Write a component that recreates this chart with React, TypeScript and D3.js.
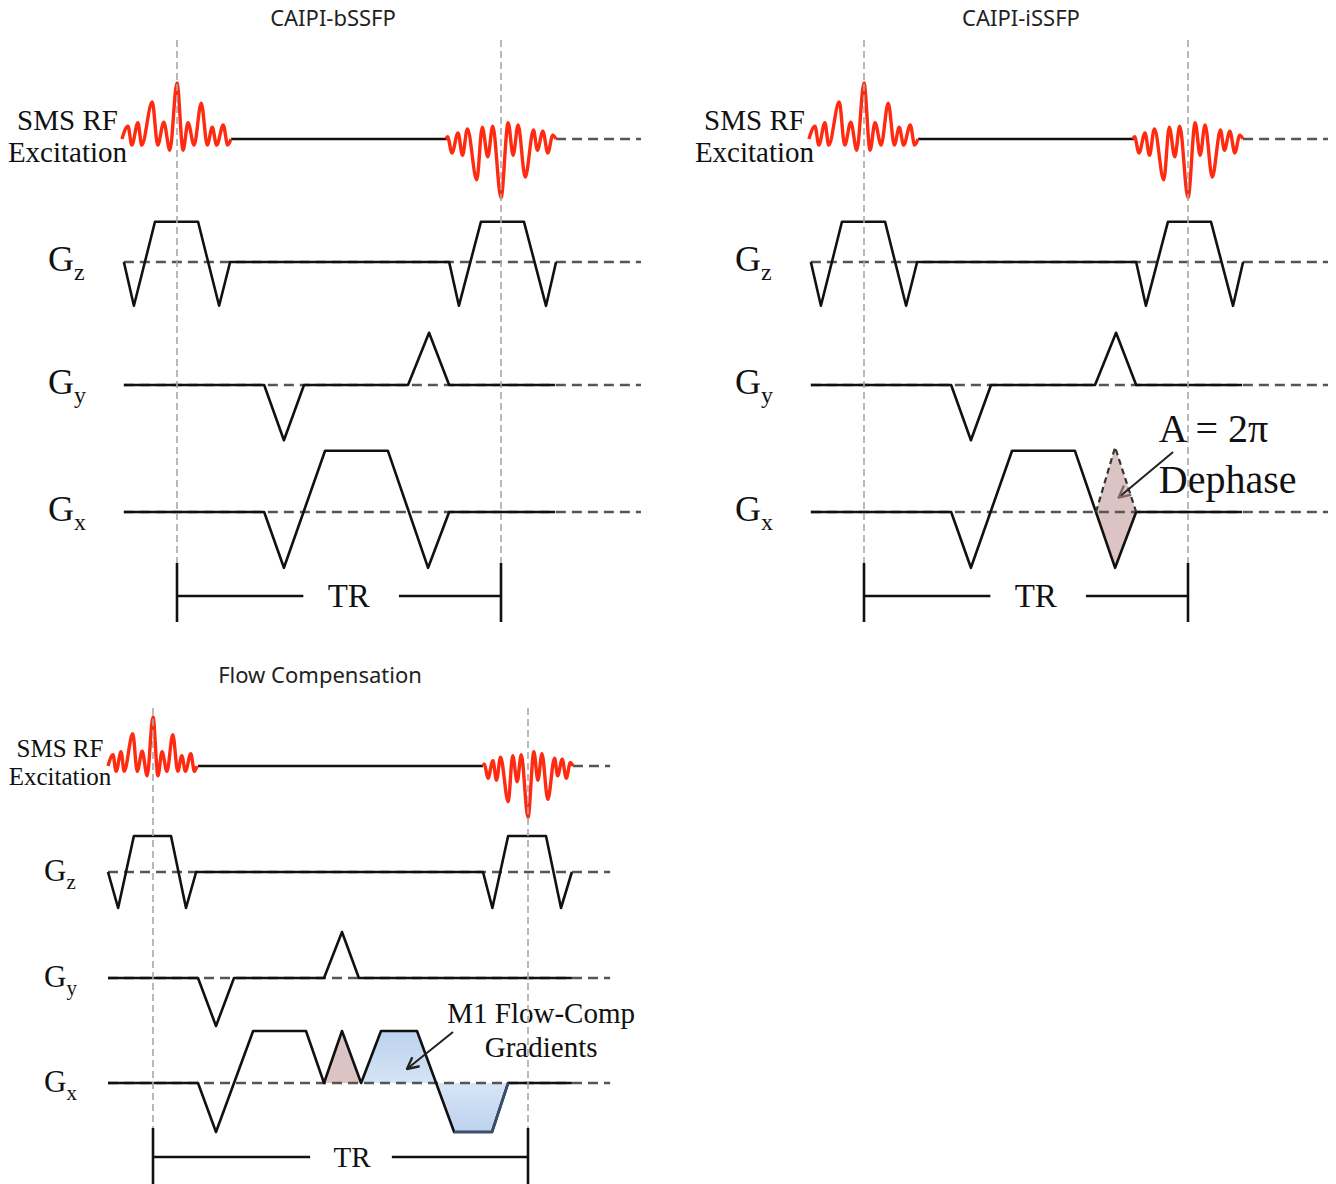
import React from 'react';
import * as d3 from 'd3';

type Pt = [number, number];

const panelTitles = ['CAIPI-bSSFP', 'CAIPI-iSSFP', 'Flow Compensation'];
const axisNames = ['z', 'y', 'x'];
const rfLabel = ['SMS RF', 'Excitation'];

// SMS RF pulses: [time / half-width, amplitude / main lobe]
const rfPulseA: Pt[] = [
  [-1, 0], [-0.89, 0.23], [-0.82, -0.11], [-0.71, 0.29], [-0.64, -0.11], [-0.45, 0.66],
  [-0.35, -0.11], [-0.24, 0.3], [-0.13, -0.2], [0, 1], [0.11, -0.2], [0.2, 0.29],
  [0.31, -0.11], [0.44, 0.64], [0.55, -0.11], [0.64, 0.21], [0.72, -0.11], [0.84, 0.25],
  [0.92, -0.11], [0.98, 0],
];
const rfPulseB: Pt[] = [
  [-1, 0], [-0.97, 0.04], [-0.89, -0.25], [-0.78, 0.11], [-0.7, -0.29], [-0.61, 0.18],
  [-0.44, -0.73], [-0.34, 0.21], [-0.24, -0.32], [-0.15, 0.23], [0, -1.05], [0.13, 0.29],
  [0.22, -0.29], [0.31, 0.25], [0.44, -0.68], [0.59, 0.16], [0.66, -0.2], [0.76, 0.14],
  [0.85, -0.25], [0.94, 0.07], [1, 0],
];

// bSSFP / iSSFP gradients: [time in % of TR, amplitude]
const gzSSFP: Pt[] = [
  [-16.4, 0], [-13.3, -0.73], [-6.8, 0.67], [6.5, 0.67], [13, -0.73], [16.4, 0],
  [84, 0], [87, -0.73], [93.8, 0.67], [107.1, 0.67], [113.9, -0.73], [117, 0],
];
const gySSFP: Pt[] = [
  [-16.4, 0], [26.9, 0], [33, -0.92], [39.2, 0], [71.3, 0], [77.8, 0.87], [84, 0], [116.7, 0],
];
const gxSSFP: Pt[] = [
  [-16.4, 0], [26.9, 0], [33, -0.93], [45.7, 1.02], [65.1, 1.02], [77.5, -0.93], [84, 0], [116.7, 0],
];
// iSSFP extra dephasing lobe (A = 2π)
const gxDephase: Pt[] = [[71.6, 0], [77.5, 1.08], [84, 0]];
const gxDephaseFill: Pt[] = [[71.6, 0], [77.5, 1.08], [84, 0], [77.5, -0.93]];

// flow compensated sequence
const gzFlow: Pt[] = [
  [-12, 0], [-9.3, -0.72], [-5.1, 0.72], [4.8, 0.72], [8.8, -0.72], [11.5, 0],
  [88, 0], [90.5, -0.72], [94.7, 0.72], [104.8, 0.72], [108.8, -0.72], [111.7, 0],
];
const gyFlow: Pt[] = [
  [-12, 0], [12, 0], [16.8, -0.96], [21.6, 0], [45.6, 0], [50.4, 0.92], [54.9, 0], [111.7, 0],
];
const gxFlow: Pt[] = [
  [-12, 0], [12, 0], [16.8, -0.98], [26.7, 1.04], [40.8, 1.04], [45.6, 0], [50.4, 1.04],
  [55.5, 0], [60.8, 1.04], [70.4, 1.04], [80.3, -0.98], [90.4, -0.98], [94.7, 0], [111.7, 0],
];
const flowPinkLobe: Pt[] = [[45.6, 0], [50.4, 1.04], [55.5, 0]];
const flowCompPos: Pt[] = [[55.5, 0], [60.8, 1.04], [70.4, 1.04], [75.5, 0]];
const flowCompNeg: Pt[] = [[75.5, 0], [80.3, -0.98], [90.4, -0.98], [94.7, 0]];

const serif = "'Liberation Serif', 'Times New Roman', serif";
const sans = "'Noto Sans', 'Open Sans', sans-serif";
const dashCol = '#555';

const layoutA = {
  xr: [177, 501], rows: [139, 262, 385, 512], gradPx: 60, rfPx: 56, half: 17,
  tStart: -16.4, tEnd: 143.2, rfGap: [16.7, 83.3], vTop: 40, vBottom: 563,
  trY: 596, trBottom: 622, trGap: [39, 68.5], trText: 53, trFont: 33,
  titleX: 333, titleY: 26, labelX: 67.5, labelY: [130, 162], labelFont: 29,
  gX: 48, gFont: 36, subFont: 24, gDy: 9,
};
const layoutB = { ...layoutA, xr: [864, 1188], titleX: 1021, labelX: 754.5, gX: 735 };
const layoutC = {
  xr: [153, 528], rows: [766, 872, 978, 1083], gradPx: 50, rfPx: 49, half: 12,
  tStart: -12, tEnd: 121.9, rfGap: [12, 88], vTop: 708, vBottom: 1128,
  trY: 1157, trBottom: 1184, trGap: [41.9, 63.7], trText: 53.1, trFont: 29,
  titleX: 320, titleY: 683, labelX: 60, labelY: [757, 785], labelFont: 25,
  gX: 44, gFont: 31, subFont: 21, gDy: 8,
};

type Layout = typeof layoutC;

function SeqPanel({ L, title, grads, extras }: {
  L: Layout; title: string; grads: Pt[][];
  extras?: (x: d3.ScaleLinear<number, number>, yx: d3.ScaleLinear<number, number>, before: boolean) => React.ReactNode;
}) {
  const x = d3.scaleLinear().domain([0, 100]).range(L.xr);
  const yRf = d3.scaleLinear().domain([-1, 1]).range([L.rows[0] + L.rfPx, L.rows[0] - L.rfPx]);
  const yG = [1, 2, 3].map(r => d3.scaleLinear().domain([-1, 1]).range([L.rows[r] + L.gradPx, L.rows[r] - L.gradPx]));
  const rfLine = (c: number) => d3.line<Pt>().x(d => x(c + d[0] * L.half)).y(d => yRf(d[1])).curve(d3.curveMonotoneX);
  const baseDash = (yy: number, t0: number) => (
    <line x1={x(t0)} x2={x(L.tEnd)} y1={yy} y2={yy} stroke={dashCol} strokeWidth={2.6} strokeDasharray="10 6" />
  );
  const yx = yG[2];
  return (
    <g>
      <text x={L.titleX} y={L.titleY} textAnchor="middle" fontFamily={sans} fontSize={22} fill="#222">{title}</text>
      {rfLabel.map((s, i) => (
        <text key={s} x={L.labelX} y={L.labelY[i]} textAnchor="middle" fontFamily={serif} fontSize={L.labelFont} fill="#111">{s}</text>
      ))}
      {axisNames.map((n, i) => (
        <text key={n} x={L.gX} y={L.rows[i + 1] + 9} fontFamily={serif} fontSize={L.gFont} fill="#111">
          G<tspan fontSize={L.subFont} dy={L.gDy}>{n}</tspan>
        </text>
      ))}
      {extras && extras(x, yx, true)}
      {/* baselines */}
      {baseDash(L.rows[0], 100 + L.half)}
      {[1, 2, 3].map(r => <g key={r}>{baseDash(L.rows[r], L.tStart)}</g>)}
      <line x1={x(L.rfGap[0])} x2={x(L.rfGap[1])} y1={L.rows[0]} y2={L.rows[0]} stroke="#111" strokeWidth={2.6} />
      {/* gradients */}
      {grads.map((g, i) => {
        const ln = d3.line<Pt>().x(d => x(d[0])).y(d => yG[i](d[1]));
        return <path key={i} d={ln(g) || ''} fill="none" stroke="#111" strokeWidth={2.6} strokeLinejoin="round" />;
      })}
      {extras && extras(x, yx, false)}
      {/* RF pulses */}
      <path d={rfLine(0)(rfPulseA) || ''} fill="none" stroke="#ff2a10" strokeWidth={3.4} strokeLinejoin="round" />
      <path d={rfLine(100)(rfPulseB) || ''} fill="none" stroke="#ff2a10" strokeWidth={3.4} strokeLinejoin="round" />
      {/* TR markers */}
      {[0, 100].map(t => (
        <g key={t}>
          <line x1={x(t)} x2={x(t)} y1={L.vTop} y2={L.vBottom} stroke="#a8a8a8" strokeWidth={1.6} strokeDasharray="7 4" />
          <line x1={x(t)} x2={x(t)} y1={L.vBottom} y2={L.trBottom} stroke="#111" strokeWidth={2.6} />
        </g>
      ))}
      <line x1={x(0)} x2={x(L.trGap[0])} y1={L.trY} y2={L.trY} stroke="#111" strokeWidth={2.6} />
      <line x1={x(L.trGap[1])} x2={x(100)} y1={L.trY} y2={L.trY} stroke="#111" strokeWidth={2.6} />
      <text x={x(L.trText)} y={L.trY + L.trFont * 0.33} textAnchor="middle" fontFamily={serif} fontSize={L.trFont} fill="#111">TR</text>
    </g>
  );
}

export default function App() {
  const area = (x: d3.ScaleLinear<number, number>, y: d3.ScaleLinear<number, number>, pts: Pt[]) =>
    d3.line<Pt>().x(d => x(d[0])).y(d => y(d[1]))(pts) + 'Z';
  const issfpExtras = (x: d3.ScaleLinear<number, number>, y: d3.ScaleLinear<number, number>, before: boolean) => {
    if (before) return <path d={area(x, y, gxDephaseFill)} fill="#dcc3c4" />;
    const ln = d3.line<Pt>().x(d => x(d[0])).y(d => y(d[1]));
    return (
      <g>
        <path d={ln(gxDephase) || ''} fill="none" stroke="#333" strokeWidth={2.2} strokeDasharray="6 4" />
        <line x1={x(95.4)} y1={y(1.0)} x2={x(78.6)} y2={y(0.24)} stroke="#222" strokeWidth={2} markerEnd="url(#headMauve)" />
        <text x={x(91)} y={y(1.17)} fontFamily={serif} fontSize={40} fill="#111">A = 2π</text>
        <text x={x(91)} y={y(0.32)} fontFamily={serif} fontSize={40} fill="#111">Dephase</text>
      </g>
    );
  };
  const flowExtras = (x: d3.ScaleLinear<number, number>, y: d3.ScaleLinear<number, number>, before: boolean) => {
    const ln = d3.line<Pt>().x(d => x(d[0])).y(d => y(d[1]));
    if (before) {
      return (
        <g>
          <path d={area(x, y, flowPinkLobe)} fill="#dcc3c4" />
          <path d={area(x, y, flowCompPos)} fill="url(#bluePos)" />
          <path d={area(x, y, flowCompNeg)} fill="url(#blueNeg)" />
        </g>
      );
    }
    return (
      <g>
        <path d={ln(gxFlow.slice(10, 13)) || ''} fill="none" stroke="#3b4f73" strokeWidth={2.5} strokeLinejoin="round" />
        <line x1={x(80)} y1={y(1.02)} x2={x(67.7)} y2={y(0.28)} stroke="#222" strokeWidth={2} markerEnd="url(#headDark)" />
        <text x={x(103.5)} y={y(1.2)} textAnchor="middle" fontFamily={serif} fontSize={29} fill="#111">M1 Flow-Comp</text>
        <text x={x(103.5)} y={y(0.52)} textAnchor="middle" fontFamily={serif} fontSize={29} fill="#111">Gradients</text>
      </g>
    );
  };
  return (
    <svg width={1336} height={1184} style={{ position: 'absolute', left: 0, top: 0, background: '#fff' }}>
      <defs>
        <marker id="headMauve" viewBox="0 0 12 12" refX={11} refY={6} markerWidth={14} markerHeight={14} markerUnits="userSpaceOnUse" orient="auto">
          <path d="M1,1 L11,6 L1,11" fill="none" stroke="#7a666b" strokeWidth={2} />
        </marker>
        <marker id="headDark" viewBox="0 0 12 12" refX={11} refY={6} markerWidth={14} markerHeight={14} markerUnits="userSpaceOnUse" orient="auto">
          <path d="M1,1 L11,6 L1,11" fill="none" stroke="#222" strokeWidth={2} />
        </marker>
        <linearGradient id="bluePos" x1="0" y1="0" x2="0" y2="1">
          <stop offset="0%" stopColor="#bcd2ee" />
          <stop offset="100%" stopColor="#d6e4f6" />
        </linearGradient>
        <linearGradient id="blueNeg" x1="0" y1="0" x2="0" y2="1">
          <stop offset="0%" stopColor="#d8e5f6" />
          <stop offset="100%" stopColor="#bcd2ee" />
        </linearGradient>
      </defs>
      <SeqPanel L={layoutA} title={panelTitles[0]} grads={[gzSSFP, gySSFP, gxSSFP]} />
      <SeqPanel L={layoutB} title={panelTitles[1]} grads={[gzSSFP, gySSFP, gxSSFP]} extras={issfpExtras} />
      <SeqPanel L={layoutC} title={panelTitles[2]} grads={[gzFlow, gyFlow, gxFlow]} extras={flowExtras} />
    </svg>
  );
}
